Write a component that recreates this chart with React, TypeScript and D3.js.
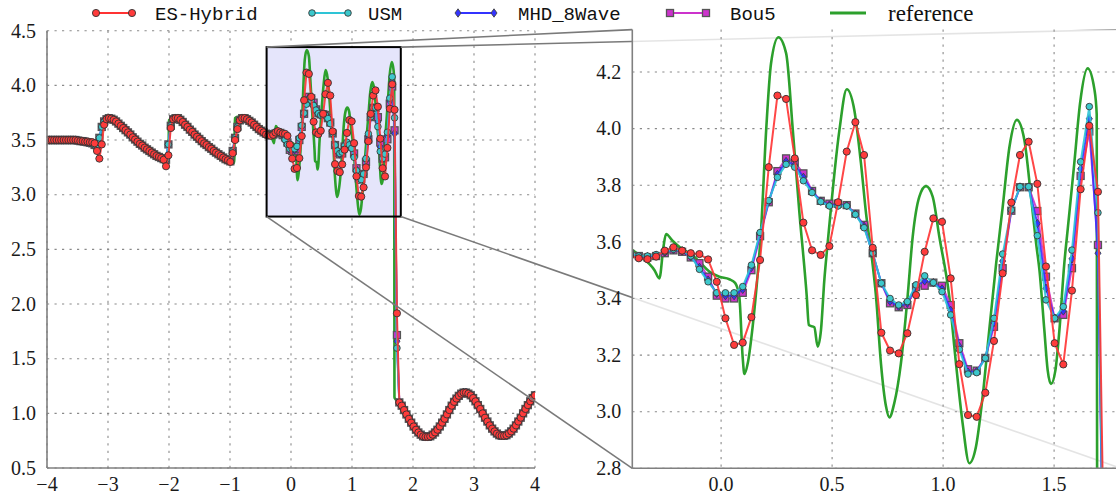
import React from 'react';
import * as d3 from 'd3';

// ---------------- DATA ----------------
const X_START = -4;
const X_END = 4;
const N_POINTS = 206;
const xCells = d3.range(N_POINTS).map((i) => X_START + (i * (X_END - X_START)) / (N_POINTS - 1));

// i = 0..92 (smooth left part), ES-Hybrid
const esLeft = [
  3.5, 3.5, 3.5, 3.5, 3.5, 3.5, 3.5, 3.5, 3.5, 3.5, 3.5, 3.5, 3.5,
  3.495, 3.49, 3.49, 3.485, 3.485, 3.48, 3.48, 3.47, 3.40, 3.33, 3.46, 3.64, 3.69, 3.70,
  3.695, 3.685, 3.67, 3.65, 3.63, 3.61, 3.59, 3.57, 3.55, 3.525, 3.505, 3.485, 3.465, 3.45,
  3.43, 3.415, 3.40, 3.385, 3.37, 3.355, 3.345, 3.335, 3.32, 3.26, 3.36, 3.61, 3.69,
  3.70, 3.70, 3.685, 3.665, 3.64, 3.62, 3.595, 3.575, 3.55, 3.53, 3.51, 3.49, 3.47, 3.455,
  3.435, 3.42, 3.40, 3.385, 3.37, 3.355, 3.34, 3.325, 3.315, 3.30, 3.38, 3.50, 3.60, 3.68,
  3.70, 3.70, 3.69, 3.675, 3.66, 3.64, 3.62, 3.60, 3.585, 3.57, 3.55,
];
// i = 0..92, USM / MHD_8Wave / Bou5 (identical at this scale)
const othersLeft = [
  3.5, 3.5, 3.5, 3.5, 3.5, 3.5, 3.5, 3.5, 3.5, 3.5, 3.5, 3.5, 3.5,
  3.495, 3.49, 3.49, 3.485, 3.48, 3.475, 3.47, 3.455, 3.45, 3.52, 3.62, 3.67, 3.69, 3.70,
  3.695, 3.685, 3.67, 3.65, 3.63, 3.61, 3.59, 3.57, 3.55, 3.525, 3.505, 3.485, 3.465, 3.45,
  3.43, 3.415, 3.40, 3.385, 3.37, 3.355, 3.345, 3.335, 3.325, 3.32, 3.46, 3.63, 3.69,
  3.70, 3.70, 3.685, 3.665, 3.64, 3.62, 3.595, 3.575, 3.55, 3.53, 3.51, 3.49, 3.47, 3.455,
  3.435, 3.42, 3.40, 3.385, 3.37, 3.355, 3.34, 3.325, 3.315, 3.305, 3.40, 3.52, 3.62, 3.68,
  3.70, 3.70, 3.69, 3.675, 3.66, 3.64, 3.62, 3.60, 3.585, 3.57, 3.558,
];
// i = 93..147 (zoomed region incl. shock)
const esZoom = [
  3.542, 3.539, 3.548, 3.569, 3.581, 3.569, 3.560, 3.557, 3.538, 3.459, 3.330, 3.236, 3.244,
  3.334, 3.536, 3.864, 4.117, 4.105, 3.895, 3.668, 3.570, 3.554, 3.585, 3.740, 3.919, 4.023,
  3.907, 3.579, 3.279, 3.216, 3.206, 3.277, 3.412, 3.565, 3.683, 3.671, 3.471, 3.168, 2.988,
  2.982, 3.067, 3.250, 3.489, 3.739, 3.907, 3.954, 3.805, 3.513, 3.242, 3.167, 3.428, 3.786,
  4.010, 3.777, 1.915,
];
const usmZoom = [
  3.550, 3.550, 3.555, 3.565, 3.574, 3.570, 3.550, 3.503, 3.459, 3.420, 3.420, 3.420, 3.442,
  3.518, 3.633, 3.746, 3.828, 3.874, 3.864, 3.816, 3.774, 3.742, 3.727, 3.727, 3.727, 3.697,
  3.650, 3.560, 3.454, 3.400, 3.377, 3.389, 3.448, 3.480, 3.456, 3.424, 3.342, 3.220, 3.133,
  3.138, 3.189, 3.330, 3.557, 3.713, 3.795, 3.795, 3.622, 3.395, 3.330, 3.371, 3.571, 3.883,
  4.078, 3.703, 1.597,
];
const mhdZoom = [
  3.548, 3.548, 3.553, 3.563, 3.572, 3.568, 3.548, 3.510, 3.465, 3.418, 3.410, 3.410, 3.432,
  3.510, 3.628, 3.742, 3.838, 3.884, 3.872, 3.828, 3.778, 3.744, 3.730, 3.730, 3.728, 3.698,
  3.655, 3.557, 3.454, 3.390, 3.372, 3.383, 3.444, 3.462, 3.456, 3.434, 3.358, 3.230, 3.140,
  3.142, 3.190, 3.315, 3.532, 3.712, 3.794, 3.794, 3.665, 3.436, 3.330, 3.356, 3.540, 3.858,
  4.035, 3.560, 1.660,
];
const bouZoom = [
  3.550, 3.545, 3.550, 3.560, 3.570, 3.565, 3.545, 3.525, 3.477, 3.410, 3.400, 3.400, 3.420,
  3.500, 3.620, 3.740, 3.850, 3.895, 3.880, 3.842, 3.780, 3.745, 3.735, 3.735, 3.730, 3.700,
  3.660, 3.560, 3.454, 3.383, 3.369, 3.377, 3.440, 3.445, 3.456, 3.445, 3.377, 3.242, 3.150,
  3.145, 3.190, 3.300, 3.507, 3.710, 3.793, 3.793, 3.709, 3.477, 3.330, 3.342, 3.507, 3.833,
  3.990, 3.589, 1.716,
];
// i = 148..205 (smooth right part, all schemes)
const rightTail = [
  1.10, 1.07, 1.03, 0.99, 0.95, 0.915, 0.88, 0.85, 0.825, 0.805, 0.79, 0.785, 0.785, 0.79,
  0.805, 0.825, 0.85, 0.88, 0.915, 0.95, 0.99, 1.03, 1.07, 1.105, 1.135, 1.16, 1.18, 1.19,
  1.19, 1.18, 1.165, 1.14, 1.11, 1.075, 1.04, 1.00, 0.96, 0.925, 0.89, 0.86, 0.835, 0.815,
  0.80, 0.795, 0.795, 0.80, 0.815, 0.835, 0.86, 0.89, 0.925, 0.96, 1.00, 1.04, 1.075, 1.11,
  1.14, 1.165,
];

const esHybrid = [...esLeft, ...esZoom, ...rightTail];
const usm = [...othersLeft, ...usmZoom, ...rightTail];
const mhd8Wave = [...othersLeft, ...mhdZoom, ...rightTail];
const bou5 = [...othersLeft, ...bouZoom, ...rightTail];

// reference (high resolution) solution, key points
const refX = [
  -4.0, -3.6, -3.45, -3.3, -3.2, -3.11, -3.10, -3.05, -2.98, -2.92, -2.8, -2.6, -2.4, -2.2,
  -2.1, -2.01, -2.0, -1.95, -1.88, -1.8, -1.6, -1.4, -1.2, -1.05, -0.93, -0.92, -0.86, -0.8,
  -0.7, -0.6, -0.5, -0.398, -0.36, -0.30, -0.278, -0.26, -0.248, -0.22, -0.18, -0.13, -0.098,
  -0.053, -0.008, 0.037, 0.063, 0.082, 0.097, 0.105, 0.12, 0.142, 0.165, 0.18, 0.203, 0.225,
  0.258, 0.293, 0.323, 0.353, 0.386, 0.395, 0.42, 0.435, 0.45, 0.465, 0.48, 0.533, 0.566,
  0.60, 0.63, 0.653, 0.675, 0.698, 0.72, 0.743, 0.758, 0.78, 0.81, 0.84, 0.863, 0.893, 0.923,
  0.953, 0.983, 1.028, 1.058, 1.088, 1.118, 1.148, 1.178, 1.208, 1.239, 1.268, 1.299, 1.332,
  1.366, 1.396, 1.419, 1.434, 1.456, 1.471, 1.486, 1.506, 1.524, 1.546, 1.561, 1.591, 1.617,
  1.651, 1.682, 1.692, 1.696, 1.70, 1.775, 1.9, 2.0, 2.1, 2.2, 2.3, 2.4, 2.5, 2.6, 2.7, 2.8,
  2.9, 3.0, 3.1, 3.2, 3.3, 3.4, 3.5, 3.6, 3.7, 3.8, 3.9, 4.0,
];
const refY = [
  3.50, 3.50, 3.49, 3.475, 3.455, 3.44, 3.675, 3.695, 3.70, 3.685, 3.63, 3.535, 3.45, 3.37,
  3.33, 3.30, 3.68, 3.70, 3.69, 3.655, 3.555, 3.455, 3.37, 3.315, 3.29, 3.70, 3.715, 3.705,
  3.68, 3.64, 3.60, 3.57, 3.548, 3.50, 3.471, 3.58, 3.628, 3.605, 3.577, 3.554, 3.53,
  3.495, 3.477, 3.468, 3.455, 3.406, 3.194, 3.133, 3.171, 3.30, 3.489, 3.642, 3.995, 4.231,
  4.323, 4.266, 3.995, 3.701, 3.406, 3.306, 3.298, 3.23, 3.289, 3.465, 3.595, 3.995, 4.139,
  4.066, 3.878, 3.70, 3.57, 3.406, 3.171, 3.018, 2.98, 3.03, 3.171, 3.406, 3.618, 3.76, 3.797,
  3.76, 3.618, 3.406, 3.171, 2.959, 2.818, 2.876, 3.053, 3.289, 3.524, 3.72, 3.936, 4.031,
  3.96, 3.76, 3.595, 3.50, 3.289, 3.147, 3.098, 3.147, 3.289, 3.524, 3.642, 3.878, 4.09,
  4.213, 4.137, 4.05, 1.15, 1.14, 1.10, 0.985, 0.89, 0.82, 0.785, 0.797, 0.85, 0.935, 1.035,
  1.128, 1.185, 1.182, 1.128, 1.04, 0.94, 0.857, 0.805, 0.795, 0.83, 0.90, 0.997, 1.093, 1.166,
];

const leftXTicks = [-4, -3, -2, -1, 0, 1, 2, 3, 4];
const leftYTicks = [0.5, 1.0, 1.5, 2.0, 2.5, 3.0, 3.5, 4.0, 4.5];
const rightXTicks = [0.0, 0.5, 1.0, 1.5];
const rightYTicks = [2.8, 3.0, 3.2, 3.4, 3.6, 3.8, 4.0, 4.2];
const zoomXRange = [-0.4, 1.8];
const zoomYRange = [2.8, 4.35];

const legendLabels = ['ES-Hybrid', 'USM', 'MHD_8Wave', 'Bou5', 'reference'];

// ---------------- STYLE ----------------
type Kind = 'circle' | 'square' | 'diamond' | 'none';
interface Series {
  name: string;
  values: number[];
  color: string;
  face: string;
  edge: string;
  edgeW: number;
  kind: Kind;
  size: number;
}

const series: Series[] = [
  { name: legendLabels[3], values: bou5, color: '#cc33cc', face: '#cc33cc', edge: '#555555', edgeW: 1.3, kind: 'square', size: 3.5 },
  { name: legendLabels[2], values: mhd8Wave, color: '#3333ff', face: '#3333ff', edge: '#444444', edgeW: 0.9, kind: 'diamond', size: 4.2 },
  { name: legendLabels[1], values: usm, color: '#2ec4d6', face: '#3cc8cc', edge: '#3a3a3a', edgeW: 0.9, kind: 'circle', size: 3.3 },
  { name: legendLabels[0], values: esHybrid, color: '#ff3333', face: '#ff3b3b', edge: '#333333', edgeW: 0.9, kind: 'circle', size: 3.6 },
];
const refColor = '#2ca02c';

const FONT_SERIF = '"Liberation Serif", "DejaVu Serif", serif';
const FONT_MONO = '"Liberation Mono", "DejaVu Sans Mono", monospace';

const W = 1116;
const H = 500;

const xL = d3.scaleLinear().domain([-4, 4]).range([47, 535]);
const yL = d3.scaleLinear().domain([0.5, 4.5]).range([468, 30.7]);
const xR = d3.scaleLinear().domain(zoomXRange).range([632.3, 1120.7]);
const yR = d3.scaleLinear().domain(zoomYRange).range([468.3, 29.6]);

function marker(kind: Kind, cx: number, cy: number, s: Series, key: string | number) {
  if (kind === 'circle')
    return <circle key={key} cx={cx} cy={cy} r={s.size} fill={s.face} stroke={s.edge} strokeWidth={s.edgeW} />;
  if (kind === 'square')
    return <rect key={key} x={cx - s.size} y={cy - s.size} width={s.size * 2} height={s.size * 2} fill={s.face} stroke={s.edge} strokeWidth={s.edgeW} />;
  if (kind === 'diamond') {
    const h = s.size, w = s.size * 0.72;
    return <path key={key} d={`M${cx},${cy - h}L${cx + w},${cy}L${cx},${cy + h}L${cx - w},${cy}Z`} fill={s.face} stroke={s.edge} strokeWidth={s.edgeW} />;
  }
  return null;
}

function Panel({ xs, ys, clipId, xTicks, yTicks, xFmt, yFmt, bg }: any) {
  const [x0, x1] = xs.range();
  const [y1, y0] = ys.range();
  const [dx0, dx1] = xs.domain();
  const line = d3.line<number>().x((_, i) => xs(xCells[i])).y((d) => ys(d));
  const refLine = d3
    .line<number>()
    .x((_, i) => xs(refX[i]))
    .y((d) => ys(d))
    .curve(d3.curveMonotoneX);
  const visible = (x: number) => x >= dx0 - 0.05 && x <= dx1 + 0.05;
  return (
    <g>
      <defs>
        <clipPath id={clipId}>
          <rect x={x0} y={y0} width={x1 - x0} height={y1 - y0} />
        </clipPath>
      </defs>
      <rect x={x0} y={y0} width={x1 - x0} height={y1 - y0} fill={bg} />
      {/* grid */}
      <g stroke="#8a8a8a" strokeWidth={1.1} strokeDasharray="2.2 5.3">
        {xTicks.map((t: number) => (
          <line key={'gx' + t} x1={xs(t)} x2={xs(t)} y1={y0} y2={y1} />
        ))}
        {yTicks.map((t: number) => (
          <line key={'gy' + t} x1={x0} x2={x1} y1={ys(t)} y2={ys(t)} />
        ))}
      </g>
      {bg === 'white' && (
        <rect
          x={xL(zoomXRange[0])}
          y={yL(zoomYRange[1])}
          width={xL(zoomXRange[1]) - xL(zoomXRange[0])}
          height={yL(zoomYRange[0]) - yL(zoomYRange[1])}
          fill="#e5e5fb"
        />
      )}
      <g clipPath={`url(#${clipId})`}>
        <path d={refLine(refY) || ''} fill="none" stroke={refColor} strokeWidth={2.6} />
        {series.map((s) => (
          <g key={s.name}>
            <path d={line(s.values) || ''} fill="none" stroke={s.color} strokeWidth={2} strokeOpacity={0.9} />
            {s.values.map((v, i) => (visible(xCells[i]) ? marker(s.kind, xs(xCells[i]), ys(v), s, i) : null))}
          </g>
        ))}
      </g>
      {bg === 'white' && (
        <rect
          x={xL(zoomXRange[0])}
          y={yL(zoomYRange[1])}
          width={xL(zoomXRange[1]) - xL(zoomXRange[0])}
          height={yL(zoomYRange[0]) - yL(zoomYRange[1])}
          fill="none"
          stroke="#000"
          strokeWidth={2}
        />
      )}
      {/* spines */}
      <line x1={x0} x2={x0} y1={y0} y2={y1} stroke="#808080" strokeWidth={1.6} />
      <line x1={x0} x2={x1} y1={y1} y2={y1} stroke="#808080" strokeWidth={1.6} />
      {/* tick labels */}
      <g fontFamily={FONT_SERIF} fontSize={20} fill="#1a1a1a">
        {xTicks.map((t: number) => (
          <text key={'tx' + t} x={xs(t)} y={491} textAnchor="middle">
            {xFmt(t)}
          </text>
        ))}
        {yTicks.map((t: number) => (
          <text key={'ty' + t} x={x0 - 11} y={ys(t)} dy="0.34em" textAnchor="end">
            {yFmt(t)}
          </text>
        ))}
      </g>
    </g>
  );
}

function Connectors() {
  const rl = xL(zoomXRange[0]);
  const rr = xL(zoomXRange[1]);
  const rt = yL(zoomYRange[1]);
  const rb = yL(zoomYRange[0]);
  const [px0, px1] = xR.range();
  const [py1, py0] = yR.range();
  const segs = [
    [rl, rt, px0, py0],
    [rr, rt, px1, py0],
    [rl, rb, px0, py1],
    [rr, rb, px1, py1],
  ];
  return (
    <g stroke="#7a7a7a" strokeWidth={1.6}>
      {segs.map((s, i) => (
        <line key={i} x1={s[0]} y1={s[1]} x2={s[2]} y2={s[3]} />
      ))}
    </g>
  );
}

function Legend() {
  const handleX = [96, 312, 458, 670, 830];
  const textX = [155, 368, 518, 730, 888];
  const y = 13;
  const styles = [series[3], series[2], series[1], series[0]];
  return (
    <g>
      {legendLabels.map((lab, i) => {
        const hx = handleX[i];
        const isRef = i === 4;
        const s = isRef ? null : styles[i];
        return (
          <g key={lab}>
            <line x1={hx} x2={hx + 36} y1={y} y2={y} stroke={isRef ? refColor : s!.color} strokeWidth={isRef ? 3 : 2.2} />
            {!isRef && marker(s!.kind, hx, y, s!, 'a')}
            {!isRef && marker(s!.kind, hx + 36, y, s!, 'b')}
            <text
              x={textX[i]}
              y={y}
              dy="0.35em"
              fontFamily={isRef ? FONT_SERIF : FONT_MONO}
              fontSize={isRef ? 23 : 19}
              fill="#111"
            >
              {lab}
            </text>
          </g>
        );
      })}
    </g>
  );
}

export default function App() {
  const fmtInt = (t: number) => (t < 0 ? '\u2212' + Math.abs(t) : String(t));
  const fmt1 = d3.format('.1f');
  return (
    <div style={{ position: 'absolute', left: 0, top: 0, width: W, height: H, background: 'white' }}>
      <svg width={W} height={H} viewBox={`0 0 ${W} ${H}`} style={{ display: 'block' }}>
        <rect x={0} y={0} width={W} height={H} fill="white" />
        <Panel xs={xL} ys={yL} clipId="clipL" xTicks={leftXTicks} yTicks={leftYTicks} xFmt={fmtInt} yFmt={fmt1} bg="white" />
        <Connectors />
        <Panel xs={xR} ys={yR} clipId="clipR" xTicks={rightXTicks} yTicks={rightYTicks} xFmt={fmt1} yFmt={fmt1} bg="rgba(255,255,255,0.8)" />
        <Legend />
      </svg>
    </div>
  );
}
